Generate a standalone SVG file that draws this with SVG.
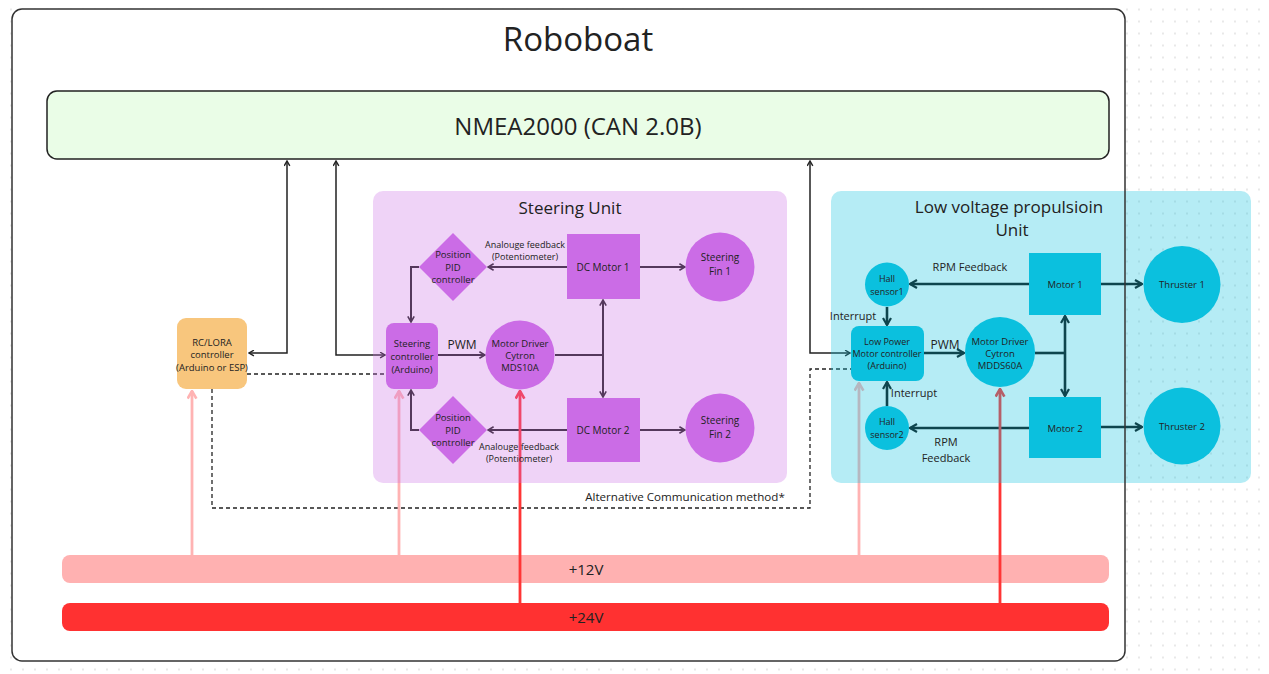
<svg xmlns="http://www.w3.org/2000/svg" width="1269" height="674" viewBox="0 0 1269 674">
<style>
text{font-family:"Open Sans","Noto Sans","DejaVu Sans",sans-serif;fill:#222;text-anchor:middle}
.n{font-size:9.5px}
.s{font-size:9px}
.l{font-size:11px}
.cp{fill:none;stroke:#222;stroke-width:2}
.cc{fill:none;stroke:#111;stroke-width:2.6}
.ck{fill:none;stroke:#222;stroke-width:1.5}
.cd{fill:none;stroke:#222;stroke-width:1.3;stroke-dasharray:4 3}
.pk{fill:none;stroke:#ffb3b3;stroke-width:2.8}
.rd{fill:none;stroke:#ff3535;stroke-width:2.8}
.pn{fill:#cb6ce6}
.cn{fill:#0bc0de}
</style>
<defs>
<pattern id="dots" width="12" height="12" patternUnits="userSpaceOnUse" x="5" y="3.5">
<circle cx="6" cy="6" r="0.9" fill="#dedede"/>
</pattern>
<marker id="mk" viewBox="0 0 10 10" refX="9" refY="5" markerWidth="7" markerHeight="7" markerUnits="userSpaceOnUse" orient="auto-start-reverse"><path d="M2,1 L9,5 L2,9" fill="none" stroke="#222" stroke-width="2"/></marker>
<marker id="mp" viewBox="0 0 10 10" refX="9" refY="5" markerWidth="8" markerHeight="8" markerUnits="userSpaceOnUse" orient="auto-start-reverse"><path d="M2,1 L9,5 L2,9" fill="none" stroke="#222" stroke-width="2"/></marker>
<marker id="mc" viewBox="0 0 10 10" refX="9" refY="5" markerWidth="10" markerHeight="10" markerUnits="userSpaceOnUse" orient="auto-start-reverse"><path d="M2,1 L9,5 L2,9" fill="none" stroke="#111" stroke-width="2.2"/></marker>
<marker id="mpk" viewBox="0 0 10 10" refX="9" refY="5" markerWidth="11" markerHeight="11" markerUnits="userSpaceOnUse" orient="auto-start-reverse"><path d="M2,1 L9,5 L2,9" fill="none" stroke="#ffb3b3" stroke-width="2.4"/></marker>
<marker id="mrd" viewBox="0 0 10 10" refX="9" refY="5" markerWidth="11" markerHeight="11" markerUnits="userSpaceOnUse" orient="auto-start-reverse"><path d="M2,1 L9,5 L2,9" fill="none" stroke="#ff3535" stroke-width="2.4"/></marker>
</defs>
<rect width="1269" height="674" fill="#fff"/>
<rect width="1269" height="674" fill="url(#dots)"/>
<rect x="12" y="9" width="1113" height="652" rx="10" fill="#fff"/>
<text x="578" y="51" style="font-size:33px">Roboboat</text>

<g id="nmea2000">
<rect x="47" y="91" width="1062" height="68" rx="10" fill="#eafde7" stroke="#222" stroke-width="1.5"/>
<text x="578" y="135" style="font-size:24px">NMEA2000 (CAN 2.0B)</text>
</g>

<g id="bus12v">
<rect x="62" y="555" width="1047" height="28" rx="8" fill="#ffb1b1"/>
<text x="586" y="575" style="font-size:15px">+12V</text>
</g>
<g id="bus24v">
<rect x="62" y="603" width="1047" height="28" rx="8" fill="#ff3131"/>
<text x="586" y="623" style="font-size:15px">+24V</text>
</g>

<g id="connectors">
<path class="ck" d="M249,353 H287 V161" marker-start="url(#mk)" marker-end="url(#mk)"/>
<path class="ck" d="M336,161 V355 H385" marker-start="url(#mk)" marker-end="url(#mk)"/>
<path class="ck" d="M810,161 V353 H850" marker-start="url(#mk)" marker-end="url(#mk)"/>
<path class="cd" d="M247,374 H386"/>
<path class="cd" d="M212,389 V508 H810 V369 H851"/>
<path class="cp" d="M567,267 H488" marker-end="url(#mp)"/>
<path class="cp" d="M640,267 H685" marker-end="url(#mp)"/>
<path class="cp" d="M419,267 H411 V322" marker-end="url(#mp)"/>
<path class="cp" d="M438,355 H485" marker-end="url(#mp)"/>
<path class="cp" d="M555,355 H603"/>
<path class="cp" d="M603,300 V397" marker-start="url(#mp)" marker-end="url(#mp)"/>
<path class="cp" d="M567,430 H488" marker-end="url(#mp)"/>
<path class="cp" d="M640,430 H685" marker-end="url(#mp)"/>
<path class="cp" d="M419,430 H411 V390" marker-end="url(#mp)"/>
<path class="cc" d="M1029,284 H910" marker-end="url(#mc)"/>
<path class="cc" d="M1101,284 H1142" marker-end="url(#mc)"/>
<path class="cc" d="M887,307 V325" marker-end="url(#mc)"/>
<path class="cc" d="M924,353 H964" marker-end="url(#mc)"/>
<path class="cc" d="M1035,353 H1065"/>
<path class="cc" d="M1065,316 V396" marker-start="url(#mc)" marker-end="url(#mc)"/>
<path class="cc" d="M1029,428 H910" marker-end="url(#mc)"/>
<path class="cc" d="M1101,427 H1142" marker-end="url(#mc)"/>
<path class="cc" d="M887,406 V382" marker-end="url(#mc)"/>
<path class="pk" d="M192,555 V391" marker-end="url(#mpk)"/>
<path class="pk" d="M399,555 V391" marker-end="url(#mpk)"/>
<path class="pk" d="M859,555 V383" marker-end="url(#mpk)"/>
<path class="rd" d="M520,603 V391" marker-end="url(#mrd)"/>
<path class="rd" d="M1000,603 V389" marker-end="url(#mrd)"/>
<text x="685" y="501" style="font-size:11.6px">Alternative Communication method*</text>
</g>

<g id="steering-unit">
<rect x="373" y="191" width="414" height="292" rx="10" fill="#cb6ce6" fill-opacity="0.3"/>
<text x="570" y="214" style="font-size:17px">Steering Unit</text>
<text x="525" y="248" class="s">Analouge feedback</text>
<text x="525" y="260" class="s">(Potentiometer)</text>
<text x="519" y="450" class="s">Analouge feedback</text>
<text x="519" y="462" class="s">(Potentiometer)</text>
<text x="462" y="349" style="font-size:12px">PWM</text>
</g>

<g id="propulsion-unit">
<rect x="831" y="191" width="420" height="292" rx="10" fill="#0bc0de" fill-opacity="0.3"/>
<text x="1009" y="213" style="font-size:17px">Low voltage propulsioin</text>
<text x="1012" y="236" style="font-size:17px">Unit</text>
<text x="970" y="271" class="l">RPM Feedback</text>
<text x="853" y="320" class="l">Interrupt</text>
<text x="914" y="397" class="l">Interrupt</text>
<text x="946" y="446" class="l">RPM</text>
<text x="946" y="462" class="l">Feedback</text>
<text x="945" y="349" style="font-size:12px">PWM</text>
</g>

<g id="rc-lora">
<rect x="177" y="318" width="70" height="71" rx="9" fill="#f8c67d"/>
<text x="212" y="346" class="n">RC/LORA</text>
<text x="212" y="358" class="n">controller</text>
<text x="212" y="371" class="n">(Arduino or ESP)</text>
</g>

<g id="steering-controller">
<rect x="386" y="323" width="52" height="66" rx="8" class="pn"/>
<text x="412" y="347" class="n">Steering</text>
<text x="412" y="360" class="n">controller</text>
<text x="412" y="373" class="n">(Arduino)</text>
</g>
<g id="pid1">
<polygon points="453,233 487,267 453,301 419,267" class="pn"/>
<text x="453" y="258" class="n">Position</text>
<text x="453" y="271" class="n">PID</text>
<text x="453" y="283" class="n">controller</text>
</g>
<g id="pid2">
<polygon points="453,396 487,430 453,464 419,430" class="pn"/>
<text x="453" y="421" class="n">Position</text>
<text x="453" y="434" class="n">PID</text>
<text x="453" y="446" class="n">controller</text>
</g>
<g id="dc-motor1">
<rect x="567" y="234" width="73" height="65" class="pn"/>
<text x="603" y="271" style="font-size:10px">DC Motor 1</text>
</g>
<g id="dc-motor2">
<rect x="567" y="398" width="73" height="64" class="pn"/>
<text x="603" y="434" style="font-size:10px">DC Motor 2</text>
</g>
<g id="fin1">
<circle cx="720" cy="267" r="34.5" class="pn"/>
<text x="720" y="261" style="font-size:10px">Steering</text>
<text x="720" y="275" style="font-size:10px">Fin 1</text>
</g>
<g id="fin2">
<circle cx="720" cy="428" r="34.5" class="pn"/>
<text x="720" y="424" style="font-size:10px">Steering</text>
<text x="720" y="438" style="font-size:10px">Fin 2</text>
</g>
<g id="driver-mds10a">
<circle cx="520" cy="355" r="34.5" class="pn"/>
<text x="520" y="347" class="n">Motor Driver</text>
<text x="520" y="359" class="n">Cytron</text>
<text x="520" y="371" class="n">MDS10A</text>
</g>

<g id="low-power-controller">
<rect x="851" y="326" width="73" height="55" rx="8" class="cn"/>
<text x="887" y="345" class="s">Low Power</text>
<text x="887" y="357" class="s">Motor controller</text>
<text x="887" y="369" class="s">(Arduino)</text>
</g>
<g id="hall1">
<circle cx="887" cy="284.5" r="22" class="cn"/>
<text x="887" y="282" class="s">Hall</text>
<text x="887" y="295" class="s">sensor1</text>
</g>
<g id="hall2">
<circle cx="887" cy="428" r="22" class="cn"/>
<text x="887" y="425" class="s">Hall</text>
<text x="887" y="438" class="s">sensor2</text>
</g>
<g id="driver-mdds60a">
<circle cx="1000" cy="352" r="35" class="cn"/>
<text x="1000" y="345" class="n">Motor Driver</text>
<text x="1000" y="357" class="n">Cytron</text>
<text x="1000" y="369" class="n">MDDS60A</text>
</g>
<g id="motor1">
<rect x="1029" y="253" width="72" height="62" class="cn"/>
<text x="1065" y="288" style="font-size:9.5px">Motor 1</text>
</g>
<g id="motor2">
<rect x="1029" y="397" width="72" height="61" class="cn"/>
<text x="1065" y="432" style="font-size:9.5px">Motor 2</text>
</g>
<g id="thruster1">
<circle cx="1182" cy="284.5" r="38.5" class="cn"/>
<text x="1182" y="288" style="font-size:9.5px">Thruster 1</text>
</g>
<g id="thruster2">
<circle cx="1182" cy="426" r="38.5" class="cn"/>
<text x="1182" y="430" style="font-size:9.5px">Thruster 2</text>
</g>

<rect x="12" y="9" width="1113" height="652" rx="10" fill="none" stroke="#333" stroke-width="1.5"/>
</svg>
